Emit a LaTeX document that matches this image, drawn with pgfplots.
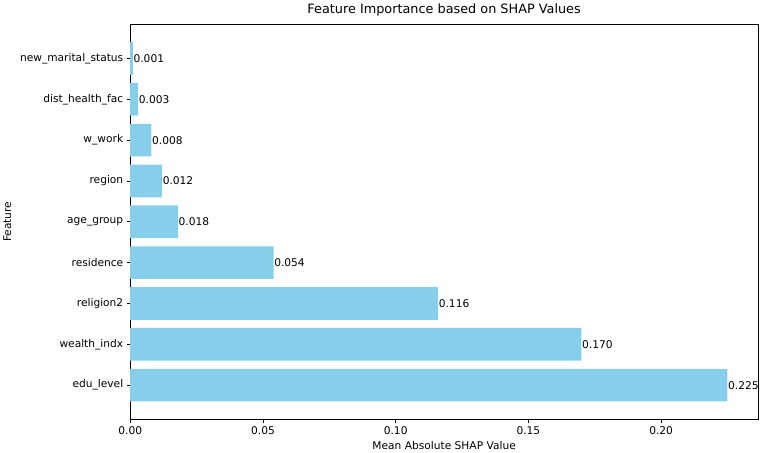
\documentclass[border=0pt]{standalone}
\usepackage{pgfplots}
\pgfplotsset{compat=1.18}
\usepackage{fontspec}
\setmainfont{DejaVu Sans}
\definecolor{skyblue}{HTML}{87CEEB}
\begin{document}
\begin{tikzpicture}
\begin{axis}[
  name=ax,
  scale only axis,
  width=629bp, height=396bp,
  xbar,
  bar width=0.8,
  xmin=0, xmax=0.2365,
  ymin=-0.84, ymax=8.84,
  xtick={0,0.05,0.10,0.15,0.20},
  xticklabel style={/pgf/number format/.cd,fixed,fixed zerofill,precision=2},
  /pgf/number format/assume math mode=true,
  ytick={0,1,2,3,4,5,6,7,8},
  yticklabels={edu\_level,wealth\_indx,religion2,residence,age\_group,region,w\_work,dist\_health\_fac,new\_marital\_status},
  tick align=outside,
  tick pos=left,
  major tick length=3.5bp,
  every tick/.style={black, line width=0.8bp},
  axis line style={black, line width=0.8bp},
  tick label style={font=\fontsize{10.7}{12.5}\selectfont},
  label style={font=\fontsize{10.7}{12.5}\selectfont},
  title style={font=\fontsize{12.9}{15}\selectfont, yshift=-1bp},
  title={Feature Importance based on SHAP Values},
  xlabel={Mean Absolute SHAP Value},
  ylabel={Feature},
  ylabel style={yshift=2bp},
  point meta=x,
  nodes near coords={\pgfmathprintnumber[fixed,fixed zerofill,precision=3]{\pgfplotspointmeta}},
  nodes near coords style={anchor=west, inner sep=0.5bp, font=\fontsize{10.7}{12.5}\selectfont, black},
]
\addplot[fill=skyblue, draw=none] coordinates {
(0.225,0) (0.170,1) (0.116,2) (0.054,3) (0.018,4) (0.012,5) (0.008,6) (0.003,7) (0.001,8)
};
\end{axis}
\useasboundingbox ([xshift=-129bp,yshift=-33bp]ax.south west) rectangle ([xshift=4bp,yshift=21bp]ax.north east);
\end{tikzpicture}
\end{document}
